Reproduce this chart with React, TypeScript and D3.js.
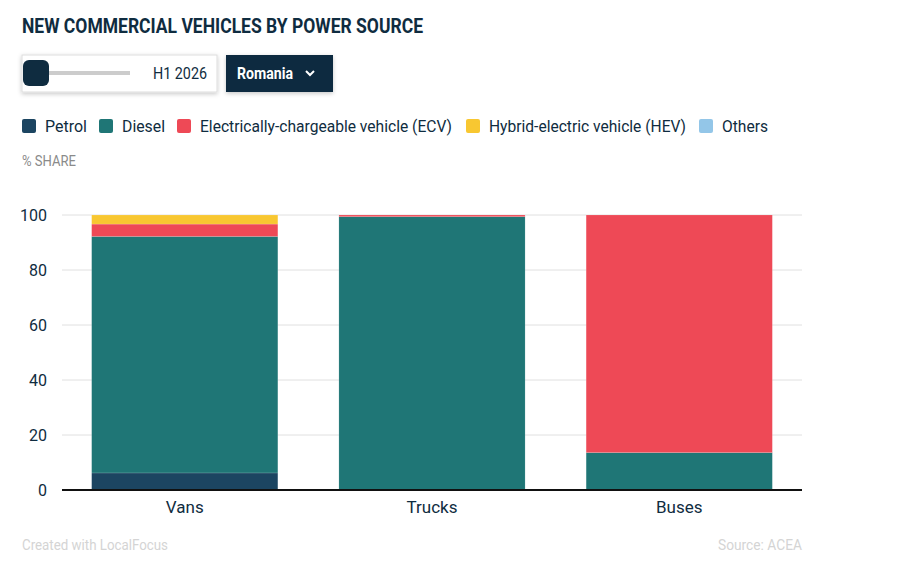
import React from 'react';
import * as d3 from 'd3';

const WIDTH = 899;
const HEIGHT = 580;

const categories = ['Vans', 'Trucks', 'Buses'];
const seriesNames = [
  'Petrol',
  'Diesel',
  'Electrically-chargeable vehicle (ECV)',
  'Hybrid-electric vehicle (HEV)',
  'Others',
];
const petrol = [6.2, 0, 0];
const diesel = [86.0, 99.4, 13.6];
const ecv = [4.5, 0.6, 86.4];
const hev = [3.3, 0, 0];
const others = [0, 0, 0];
const yTicks = [0, 20, 40, 60, 80, 100];

const colors = ['#1c4561', '#1f7676', '#ee4956', '#f8c731', '#93c6e8'];
const NAVY = '#0f2c40';
const FONT = 'Roboto, "Noto Sans", sans-serif';

const margin = { l: 62, r: 97, t: 215, b: 90 };

const App = () => {
  const plotW = WIDTH - margin.l - margin.r;
  const plotH = HEIGHT - margin.t - margin.b;

  const rows = categories.map((c, i) => ({
    category: c,
    Petrol: petrol[i],
    Diesel: diesel[i],
    'Electrically-chargeable vehicle (ECV)': ecv[i],
    'Hybrid-electric vehicle (HEV)': hev[i],
    Others: others[i],
  }));

  const stacked = d3.stack<any>().keys(seriesNames)(rows);

  const xScale = d3
    .scaleBand()
    .domain(categories)
    .range([0, plotW])
    .paddingInner(0.247)
    .paddingOuter(0.12);
  const yScale = d3.scaleLinear().domain([0, 100]).range([plotH, 0]);

  // legend layout: square + label, widths fitted to the label text
  const legendX = [22, 99, 177, 466, 699];
  const legendLen = [42, 43, 252, 197, 46];

  return (
    <svg
      width={WIDTH}
      height={HEIGHT}
      style={{ position: 'absolute', left: 0, top: 0, fontFamily: FONT }}
    >
      <defs>
        <filter id="shadow" x="-10%" y="-20%" width="120%" height="150%">
          <feDropShadow dx="0" dy="1.5" stdDeviation="2" floodColor="#000" floodOpacity="0.22" />
        </filter>
      </defs>
      <rect width={WIDTH} height={HEIGHT} fill="#fff" />

      <text
        x={22}
        y={33}
        fontSize={21}
        fontWeight={700}
        fill={NAVY}
        textLength={401}
        lengthAdjust="spacingAndGlyphs"
      >
        NEW COMMERCIAL VEHICLES BY POWER SOURCE
      </text>

      {/* time slider */}
      <rect x={22} y={55} width={195} height={37} fill="#fff" stroke="#ddd" filter="url(#shadow)" />
      <rect x={48} y={71} width={82} height={4} fill="#cccccc" />
      <rect x={23} y={60} width={26} height={26} rx={6} fill={NAVY} />
      <text x={207} y={79} fontSize={16} fill={NAVY} textAnchor="end" textLength={54} lengthAdjust="spacingAndGlyphs">
        H1 2026
      </text>

      {/* country dropdown */}
      <rect x={226} y={55} width={107} height={37} fill={NAVY} filter="url(#shadow)" />
      <text x={237} y={79} fontSize={16} fontWeight={700} fill="#fff" textLength={56} lengthAdjust="spacingAndGlyphs">
        Romania
      </text>
      <path d="M306,71 l4,4 l4,-4" fill="none" stroke="#fff" strokeWidth={2} />

      {/* legend */}
      {seriesNames.map((s, i) => (
        <g key={s}>
          <rect x={legendX[i]} y={119} width={14} height={14} rx={2} fill={colors[i]} />
          <text
            x={legendX[i] + 23}
            y={132}
            fontSize={17}
            fill={NAVY}
            textLength={legendLen[i]}
            lengthAdjust="spacingAndGlyphs"
          >
            {s}
          </text>
        </g>
      ))}

      <text x={22} y={166} fontSize={14} fill="#8a8a8a" textLength={54} lengthAdjust="spacingAndGlyphs">
        % SHARE
      </text>

      <g transform={`translate(${margin.l}, ${margin.t})`}>
        {yTicks.map((t) => (
          <g key={t}>
            {t > 0 && (
              <line x1={0} x2={plotW} y1={yScale(t)} y2={yScale(t)} stroke="#e0e0e0" />
            )}
            <text
              x={-15}
              y={yScale(t) + 6}
              fontSize={16}
              fill={NAVY}
              textAnchor="end"
            >
              {t}
            </text>
          </g>
        ))}

        {stacked.map((layer, li) =>
          layer.map((d, ci) => {
            const h = yScale(d[0]) - yScale(d[1]);
            if (h <= 0) return null;
            return (
              <rect
                key={`${li}-${ci}`}
                x={xScale(categories[ci])}
                y={yScale(d[1])}
                width={xScale.bandwidth()}
                height={h}
                fill={colors[li]}
                stroke="#fff"
                strokeOpacity={0.25}
                strokeWidth={0.5}
              />
            );
          })
        )}

        <line x1={0} x2={plotW} y1={plotH} y2={plotH} stroke="#111" strokeWidth={2} />

        {categories.map((c) => (
          <text
            key={c}
            x={(xScale(c) as number) + xScale.bandwidth() / 2}
            y={plotH + 23}
            fontSize={17}
            fill={NAVY}
            textAnchor="middle"
          >
            {c}
          </text>
        ))}
      </g>

      <text x={22} y={550} fontSize={14} fill="#d4d4d4" textLength={146} lengthAdjust="spacingAndGlyphs">
        Created with LocalFocus
      </text>
      <text x={802} y={550} fontSize={14} fill="#d4d4d4" textAnchor="end" textLength={84} lengthAdjust="spacingAndGlyphs">
        Source: ACEA
      </text>
    </svg>
  );
};

export default App;
